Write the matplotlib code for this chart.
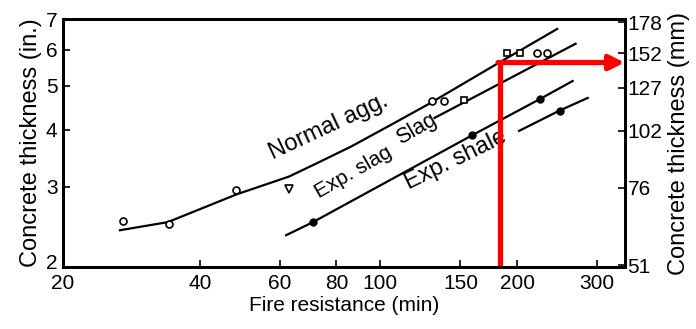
import matplotlib.pyplot as plt
import matplotlib.transforms as mtransforms
from matplotlib.ticker import FixedLocator, NullLocator, FixedFormatter

plt.rcParams['font.family'] = ['Liberation Sans', 'DejaVu Sans']

# === Data ===
# fire resistance (min) vs concrete thickness (in.)
normal_x = [26.7, 34.0, 48.3, 62.9, 72.9, 86.3, 105.8, 127.8, 176, 245]
normal_y = [2.41, 2.51, 2.89, 3.16, 3.39, 3.68, 4.11, 4.56, 5.50, 6.66]

slag_x = [131.6, 269]
slag_y = [4.25, 6.18]

exp_slag_x = [62, 71, 159, 225, 265]
exp_slag_y = [2.35, 2.51, 3.89, 4.68, 5.12]

exp_shale_x = [202, 248, 286]
exp_shale_y = [3.98, 4.41, 4.70]

# test points
open_circ_x = [27.1, 34.2, 48, 129.7, 138, 221, 233]
open_circ_y = [2.53, 2.49, 2.96, 4.63, 4.63, 5.90, 5.90]
open_sq_x = [153, 190, 203]
open_sq_y = [4.65, 5.90, 5.90]
tri_x = [63]
tri_y = [2.97]
exp_slag_pts_x = [71, 159, 225]
exp_slag_pts_y = [2.51, 3.89, 4.68]
exp_shale_pts_x = [248]
exp_shale_pts_y = [4.41]

x_ticks = [20, 40, 60, 80, 100, 150, 200, 300]
y_ticks = [2, 3, 4, 5, 6, 7]
mm_ticks = [51, 76, 102, 127, 152, 178]

# red reading line
red_x = 183
red_y = 5.62

fig = plt.figure(figsize=(6.96, 3.29), dpi=100)
ax = fig.add_axes([0.0905, 0.188, 0.807, 0.754])

ax.set_xscale('log')
ax.set_yscale('log')
ax.set_xlim(20, 345)
ax.set_ylim(2, 7)

lc = 'black'
ax.plot(normal_x, normal_y, color=lc, lw=1.6)
ax.plot(slag_x, slag_y, color=lc, lw=1.6)
ax.plot(exp_slag_x, exp_slag_y, color=lc, lw=1.6)
ax.plot(exp_shale_x, exp_shale_y, color=lc, lw=1.6)

ax.plot(open_circ_x, open_circ_y, 'o', ms=5, mfc='white', mec=lc, mew=1.2)
ax.plot(open_sq_x, open_sq_y, 's', ms=4.5, mfc='white', mec=lc, mew=1.2)
ax.plot(tri_x, tri_y, 'v', ms=6, mfc='white', mec=lc, mew=1.2)
ax.plot(exp_slag_pts_x, exp_slag_pts_y, 'o', ms=5, color=lc)
ax.plot(exp_shale_pts_x, exp_shale_pts_y, 'o', ms=5, color=lc)

# curve labels
ax.text(58.5, 3.36, 'Normal agg.', rotation=25, fontsize=17, ha='left', va='bottom',
        rotation_mode='anchor')
ax.text(112, 3.63, 'Slag', rotation=30, fontsize=15.5, ha='left', va='bottom',
        rotation_mode='anchor')
ax.text(74, 2.78, 'Exp. slag', rotation=30, fontsize=15, ha='left', va='bottom',
        rotation_mode='anchor')
ax.text(117, 2.90, 'Exp. shale', rotation=26, fontsize=17, ha='left', va='bottom',
        rotation_mode='anchor')

# axes styling
for s in ax.spines.values():
    s.set_linewidth(2)
ax.xaxis.set_major_locator(FixedLocator(x_ticks))
ax.xaxis.set_major_formatter(FixedFormatter([str(v) for v in x_ticks]))
ax.xaxis.set_minor_locator(NullLocator())
ax.yaxis.set_major_locator(FixedLocator(y_ticks))
ax.yaxis.set_major_formatter(FixedFormatter([str(v) for v in y_ticks]))
ax.yaxis.set_minor_locator(NullLocator())
ax.tick_params(direction='in', length=5, width=1.2, labelsize=15, pad=4)
ax.tick_params(axis='x', pad=5)
ax.set_xlabel('Fire resistance (min)', fontsize=15, labelpad=2)
ax.set_ylabel('Concrete thickness (in.)', fontsize=17, labelpad=3)

ax2 = ax.twinx()
ax2.set_yscale('log')
ax2.set_ylim(50.5, 181)
ax2.yaxis.set_major_locator(FixedLocator(mm_ticks))
ax2.yaxis.set_major_formatter(FixedFormatter([str(v) for v in mm_ticks]))
ax2.yaxis.set_minor_locator(NullLocator())
ax2.tick_params(direction='in', length=5, width=1.2, labelsize=15, pad=2)
ax2.set_ylabel('Concrete thickness (mm)', fontsize=17, labelpad=4)
for s in ax2.spines.values():
    s.set_linewidth(2)

# nudge the bottom "2" up a little so it clears the "20" below it
lift = mtransforms.ScaledTranslation(0, 4 / 72, fig.dpi_scale_trans)
t0 = ax.yaxis.get_major_ticks()[0]
t0.label1.set_transform(t0.label1.get_transform() + lift)

# red annotation
ax.plot([red_x, red_x], [2, red_y], color='red', lw=3.8, solid_capstyle='butt',
        solid_joinstyle='miter', clip_on=False, zorder=5)
ax.annotate('', xy=(345, red_y), xytext=(red_x * 0.992, red_y),
            arrowprops=dict(arrowstyle='-|>', color='red', lw=3.8,
                            mutation_scale=22, shrinkA=0, shrinkB=0),
            zorder=5)

fig.savefig('out.png', dpi=100)
